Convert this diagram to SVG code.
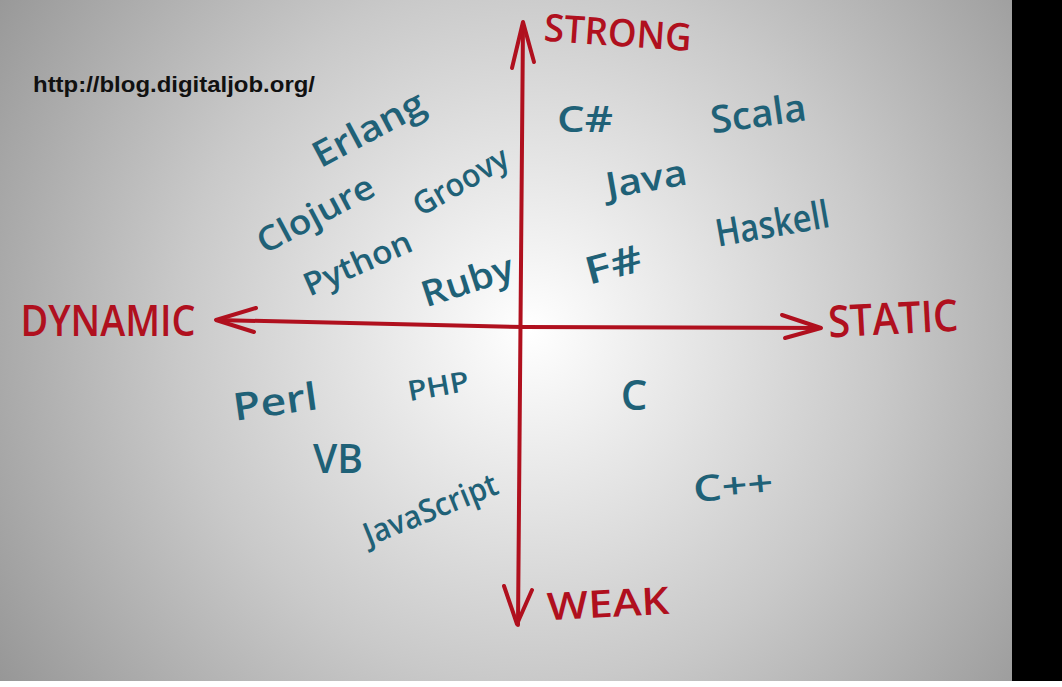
<svg xmlns="http://www.w3.org/2000/svg" width="1062" height="687" viewBox="0 0 1062 687">
  <defs>
    <radialGradient id="bg" gradientUnits="userSpaceOnUse" cx="530" cy="330" r="640">
      <stop offset="0" stop-color="#ffffff"/>
      <stop offset="0.12" stop-color="#f3f3f3"/>
      <stop offset="0.55" stop-color="#c9c9c9"/>
      <stop offset="1" stop-color="#969696"/>
    </radialGradient>
    <style>
      .axis { fill: none; stroke: #b0101e; stroke-width: 4; stroke-linecap: round; stroke-linejoin: round; }
      .ax { font-family: "Open Sans", "DejaVu Sans", sans-serif; font-weight: 600; fill: #b0101e; dominant-baseline: central; text-anchor: middle; }
      .lang { font-family: "Open Sans", "DejaVu Sans", sans-serif; font-weight: 600; fill: #1f6177; dominant-baseline: central; text-anchor: middle; }
      .url { font-family: "Liberation Sans", Arial, sans-serif; font-weight: bold; font-size: 22px; fill: #111111; }
    </style>
  </defs>

  <rect x="0" y="0" width="1062" height="687" fill="#ffffff"/>
  <rect x="0" y="0" width="1012" height="681" fill="url(#bg)"/>
  <rect x="1012" y="0" width="50" height="681" fill="#000000"/>

  <g id="connectors">
    <path class="axis" d="M518,625 L523,24"/>
    <path class="axis" d="M512,68 L523,22 L534,62"/>
    <path class="axis" d="M504,586 L517,624 L532,590"/>
    <path class="axis" d="M217,320 L524,327 L820,328"/>
    <path class="axis" d="M256,308 L216,320 L254,332"/>
    <path class="axis" d="M782,315 L821,328 L785,338"/>
  </g>

  <g id="url"><text class="url" x="33" y="92" textLength="282" lengthAdjust="spacingAndGlyphs">http://blog.digitaljob.org/</text></g>

  <g id="strong"><text class="ax" font-size="38" textLength="148" lengthAdjust="spacingAndGlyphs" transform="translate(618,31) rotate(4)">STRONG</text></g>
  <g id="weak"><text class="ax" font-size="38" textLength="122" lengthAdjust="spacingAndGlyphs" transform="translate(608,602) rotate(-3)">WEAK</text></g>
  <g id="dynamic"><text class="ax" font-size="44" textLength="175" lengthAdjust="spacingAndGlyphs" transform="translate(108,319)">DYNAMIC</text></g>
  <g id="static"><text class="ax" font-size="44" textLength="130" lengthAdjust="spacingAndGlyphs" transform="translate(893,317) rotate(-3)">STATIC</text></g>

  <g id="erlang"><text class="lang" font-size="36" textLength="122" lengthAdjust="spacingAndGlyphs" transform="translate(368,128) rotate(-28)">Erlang</text></g>
  <g id="clojure"><text class="lang" font-size="34" textLength="128" lengthAdjust="spacingAndGlyphs" transform="translate(315,213) rotate(-28)">Clojure</text></g>
  <g id="groovy"><text class="lang" font-size="32" textLength="105" lengthAdjust="spacingAndGlyphs" transform="translate(460,180) rotate(-30)">Groovy</text></g>
  <g id="python"><text class="lang" font-size="32" textLength="115" lengthAdjust="spacingAndGlyphs" transform="translate(357,262) rotate(-24)">Python</text></g>
  <g id="ruby"><text class="lang" font-size="36" textLength="95" lengthAdjust="spacingAndGlyphs" transform="translate(467,280) rotate(-18)">Ruby</text></g>
  <g id="csharp"><text class="lang" font-size="36" textLength="56" lengthAdjust="spacingAndGlyphs" transform="translate(585,118)">C#</text></g>
  <g id="scala"><text class="lang" font-size="38" textLength="96" lengthAdjust="spacingAndGlyphs" transform="translate(758,112) rotate(-8)">Scala</text></g>
  <g id="java"><text class="lang" font-size="36" textLength="82" lengthAdjust="spacingAndGlyphs" transform="translate(646,178) rotate(-10)">Java</text></g>
  <g id="haskell"><text class="lang" font-size="38" textLength="115" lengthAdjust="spacingAndGlyphs" transform="translate(772,222) rotate(-10)">Haskell</text></g>
  <g id="fsharp"><text class="lang" font-size="38" textLength="58" lengthAdjust="spacingAndGlyphs" transform="translate(613,263) rotate(-15)">F#</text></g>
  <g id="perl"><text class="lang" font-size="38" textLength="85" lengthAdjust="spacingAndGlyphs" transform="translate(275,400) rotate(-8)">Perl</text></g>
  <g id="php"><text class="lang" font-size="28" textLength="62" lengthAdjust="spacingAndGlyphs" transform="translate(438,385) rotate(-10)">PHP</text></g>
  <g id="vb"><text class="lang" font-size="40" textLength="50" lengthAdjust="spacingAndGlyphs" transform="translate(338,457)">VB</text></g>
  <g id="javascript"><text class="lang" font-size="32" textLength="142" lengthAdjust="spacingAndGlyphs" transform="translate(430,508) rotate(-22)">JavaScript</text></g>
  <g id="c"><text class="lang" font-size="42" transform="translate(634,393)">C</text></g>
  <g id="cpp"><text class="lang" font-size="36" textLength="80" lengthAdjust="spacingAndGlyphs" transform="translate(733,485) rotate(-5)">C++</text></g>
</svg>
